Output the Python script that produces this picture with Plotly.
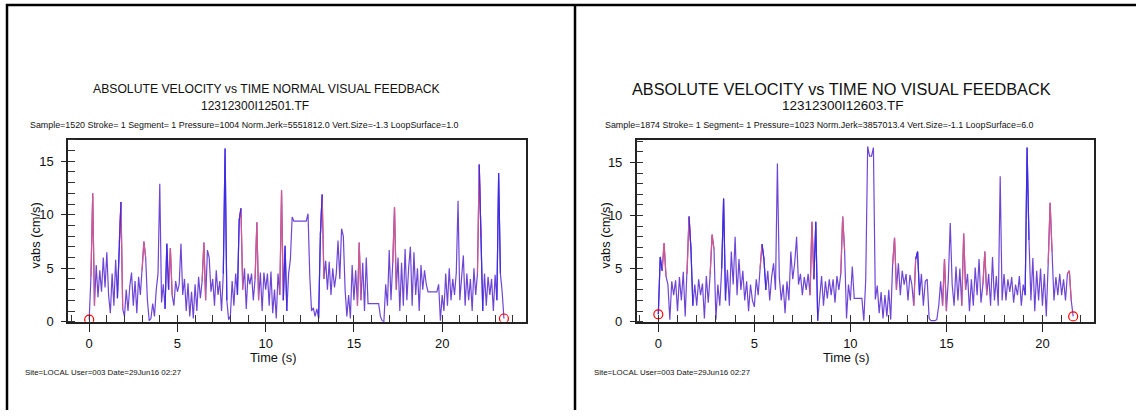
import plotly.graph_objects as go

DT = 0.1

# Left panel: NORMAL VISUAL FEEDBACK
v_normal = [
    0.2, 4.2, 12.0, 1.5, 5.3, 2.3, 4.8, 2.8, 6.0, 3.2,
    6.5, 2.5, 0.8, 4.5, 1.5, 5.8, 2.2, 7.3, 11.2, 1.2,
    0.5, 3.0, 1.0, 3.3, 4.6, 1.5, 3.8, 0.8, 4.2, 2.5,
    4.8, 7.5, 6.0, 2.0, 0.1, 0.3, 1.7, 0.5, 3.0, 4.5,
    12.9, 1.8, 3.5, 1.2, 7.3, 3.0, 6.9, 2.5, 1.5, 3.8,
    2.8, 3.5, 7.3, 2.5, 4.0, 1.0, 3.6, 0.5, 2.8, 0.3,
    3.5, 1.0, 4.2, 2.2, 3.8, 7.4, 2.0, 6.7, 6.0, 2.8,
    4.0, 1.5, 4.8, 2.5, 3.8, 1.0, 4.5, 16.2, 2.0, 0.2,
    0.5, 3.8, 1.5, 4.5, 2.5, 9.5, 10.6, 3.0, 5.0, 1.2,
    4.5, 3.5, 4.5, 2.0, 4.0, 9.3, 2.0, 4.6, 1.0, 4.6,
    3.0, 4.5, 1.5, 4.7, 0.8, 3.0, 0.3, 4.5, 2.5, 12.3,
    2.0, 7.1, 1.0, 4.5, 5.8, 9.8, 9.4, 9.4, 9.4, 9.4,
    9.4, 9.4, 9.4, 9.4, 10.1, 4.2, 1.0, 1.3, 0.5, 1.2,
    0.3, 8.1, 11.9, 4.0, 5.7, 3.0, 5.6, 2.5, 5.0, 3.2,
    4.5, 7.6, 4.0, 8.7, 8.0, 3.0, 0.5, 2.5, 0.3, 5.3,
    2.0, 4.8, 1.5, 7.4, 2.0, 5.5, 1.0, 6.0, 1.7, 1.7,
    1.7, 1.7, 1.7, 1.7, 1.7, 0.5, 0.1, 0.0, 3.5, 1.5,
    6.7, 2.0, 5.5, 10.7, 3.0, 6.0, 1.0, 5.5, 1.5, 6.8,
    2.0, 5.0, 7.0, 1.5, 6.5, 2.5, 5.0, 1.0, 5.3, 3.0,
    4.8, 3.5, 2.8, 2.8, 2.8, 2.8, 2.8, 2.8, 3.5, 0.1,
    2.5, 1.0, 4.5, 1.5, 5.0, 2.0, 4.0, 2.5, 4.6, 11.3,
    2.0, 4.0, 6.2, 1.5, 4.5, 2.0, 4.0, 1.0, 5.0, 2.5,
    4.5, 14.7, 7.9, 1.0, 4.5, 1.5, 4.2, 2.5, 4.0, 1.0,
    4.4, 2.0, 13.9, 4.5, 2.8, 0.3,
]
pink_normal = [0.2, 1.8, 3.1, 4.6, 6.5, 8.6, 9.5, 10.9, 13.2, 15.3, 17.3, 22.1]
blue_normal = [1.7, 4.4, 7.7, 8.5, 11.1, 13.1, 22.2, 23.2]

# Right panel: NO VISUAL FEEDBACK
v_novis = [
    0.7, 6.1, 4.8, 7.4, 4.3, 3.5, 0.2, 3.8, 2.5, 3.9,
    1.0, 4.2, 2.0, 4.7, 0.5, 4.5, 9.9, 6.8, 1.5, 3.5,
    1.5, 4.0, 2.5, 3.6, 0.3, 4.3, 1.8, 4.5, 8.2, 6.8,
    0.2, 3.5, 1.5, 5.0, 11.6, 2.0, 4.9, 1.5, 6.6, 3.5,
    8.0, 2.5, 5.9, 3.0, 4.8, 2.0, 3.8, 1.0, 3.5, 2.0,
    1.4, 4.0, 2.5, 5.0, 7.3, 5.9, 3.0, 4.8, 2.0, 4.2,
    5.5, 3.0, 14.9, 4.2, 2.0, 3.5, 0.8, 3.8, 2.0, 6.6,
    4.0, 5.5, 8.0, 3.5, 4.5, 2.5, 4.2, 3.0, 4.5, 2.5,
    9.4, 4.0, 9.4, 0.1, 2.5, 4.3, 1.5, 3.8, 2.2, 4.0,
    2.5, 4.0, 1.8, 4.3, 3.0, 4.5, 9.9, 6.7, 0.3, 3.5,
    2.0, 5.2, 2.2, 2.2, 2.2, 2.2, 2.2, 0.1, 4.0, 16.5,
    15.6, 15.6, 16.4, 2.1, 3.4, 0.8, 2.8, 0.3, 2.5, 0.5,
    3.0, 0.2, 5.4, 7.9, 3.0, 5.5, 2.5, 4.8, 3.5, 4.5,
    2.0, 4.4, 3.5, 1.5, 5.9, 6.6, 2.5, 4.5, 1.5, 3.8,
    4.0, 0.3, 0.1, 0.1, 0.1, 0.2, 1.5, 3.8, 1.5, 5.9,
    1.0, 4.0, 9.3, 3.5, 1.5, 5.2, 2.0, 5.0, 1.5, 8.3,
    3.0, 4.5, 1.0, 4.0, 1.5, 5.1, 2.5, 5.9, 1.8, 3.5,
    6.6, 2.5, 4.5, 1.5, 6.1, 2.0, 4.3, 1.5, 13.7, 2.0,
    4.5, 2.0, 4.0, 2.8, 4.2, 1.8, 3.5, 2.5, 4.3, 1.5,
    3.5, 2.5, 16.4, 7.7, 2.0, 6.0, 1.0, 4.8, 2.0, 5.0,
    1.5, 4.5, 0.5, 5.5, 11.2, 6.6, 2.0, 4.2, 2.5, 4.5,
    2.5, 4.0, 2.0, 4.5, 4.8, 2.0, 0.5,
]
pink_novis = [0.3, 1.6, 2.8, 5.4, 8.0, 9.6, 12.3, 13.4, 14.9, 15.9, 17.0, 20.4, 21.4]
blue_novis = [0.1, 1.7, 3.4, 5.5, 8.2, 13.5, 19.2]

titles = ["ABSOLUTE VELOCITY vs TIME NORMAL VISUAL FEEDBACK",
          "ABSOLUTE VELOCITY vs TIME NO VISUAL FEEDBACK"]
files = ["12312300I12501.TF", "12312300I12603.TF"]
infos = ["Sample=1520 Stroke= 1 Segment= 1 Pressure=1004 Norm.Jerk=5551812.0 Vert.Size=-1.3 LoopSurface=1.0",
         "Sample=1874 Stroke= 1 Segment= 1 Pressure=1023 Norm.Jerk=3857013.4 Vert.Size=-1.1 LoopSurface=6.0"]
footer = "Site=LOCAL User=003 Date=29Jun16 02:27"
x_ticks = [0, 5, 10, 15, 20]
y_ticks = [0, 5, 10, 15]

# ---------------- figure ----------------
W, H = 1136, 418
FONT = "Liberation Sans, Arial, sans-serif"
PURPLE, BLUE, PINK = "#6e46d6", "#3c2ce6", "#d2588c"

fig = go.Figure()

panels = [
    dict(v=v_normal, pink=pink_normal, blue=blue_normal, xa="x", ya="y",
         xdom=[68 / W, 526 / W], xr=[-1.2, 24.75], yr=[0, 17.03]),
    dict(v=v_novis, pink=pink_novis, blue=blue_novis, xa="x2", ya="y2",
         xdom=[636.7 / W, 1094.3 / W], xr=[-1.125, 22.7], yr=[0, 17.15]),
]
ydom = [1 - 328 / H, 1 - 142.3 / H]

for p in panels:
    v = p["v"]
    t = [round(i * DT, 1) for i in range(len(v))]
    fig.add_trace(go.Scatter(x=t, y=v, mode="lines", xaxis=p["xa"], yaxis=p["ya"],
                             line=dict(color=PURPLE, width=1.2), showlegend=False,
                             hoverinfo="skip"))
    for peaks, col in ((p["pink"], PINK), (p["blue"], BLUE)):
        xs, ys = [], []
        for pk in peaks:
            k = int(round(pk / DT))
            lo, hi = max(k - 1, 0), min(k + 1, len(v) - 1)
            xs += t[lo:hi + 1] + [None]
            ys += v[lo:hi + 1] + [None]
        fig.add_trace(go.Scatter(x=xs, y=ys, mode="lines", xaxis=p["xa"], yaxis=p["ya"],
                                 line=dict(color=col, width=1.2), showlegend=False,
                                 hoverinfo="skip", connectgaps=False))
    # start / end markers
    fig.add_trace(go.Scatter(x=[t[0], t[-1]], y=[v[0], v[-1]], mode="markers",
                             xaxis=p["xa"], yaxis=p["ya"], showlegend=False,
                             marker=dict(symbol="circle-open", size=9, color="#ff0000",
                                         line=dict(width=1.2, color="#ff0000"))))

axis_common = dict(showgrid=False, zeroline=False, showline=True, linecolor="#222",
                   linewidth=1.5, mirror=True, tickfont=dict(family=FONT, size=13, color="#111"))

for i, p in enumerate(panels):
    sfx = "" if i == 0 else "2"
    fig.layout["xaxis" + sfx] = dict(
        domain=p["xdom"], range=p["xr"], anchor="y" + sfx,
        tickmode="array", tickvals=x_ticks, ticks="outside", ticklen=9, tickwidth=1.2,
        tickcolor="#222",
        minor=dict(dtick=1, tick0=0, ticks="inside", ticklen=7, tickwidth=1.2,
                   tickcolor="#333", showgrid=False),
        **axis_common)
    fig.layout["yaxis" + sfx] = dict(
        domain=ydom, range=p["yr"], anchor="x" + sfx,
        tickmode="array", tickvals=y_ticks, ticks="outside", ticklen=5, tickwidth=1.2,
        tickcolor="#222", ticklabelstandoff=5,
        minor=dict(dtick=1, tick0=0, ticks="inside", ticklen=7, tickwidth=1.2,
                   tickcolor="#333", showgrid=False),
        **axis_common)

def px(x):
    return x / W

def py(y):
    return 1 - y / H

ann = []
text_layout = [
    dict(tc=266, ts=12.2, fc=255, fs=12, ic=244.5, xl=273, yl=35, fx=23),
    dict(tc=841.5, ts=16.3, fc=843, fs=13.5, ic=819, xl=846, yl=605, fx=592),
]
for i, L in enumerate(text_layout):
    ann.append(dict(text=titles[i], x=px(L["tc"]), y=py(91), xanchor="center", yanchor="middle",
                    font=dict(family=FONT, size=L["ts"], color="#111")))
    ann.append(dict(text=files[i], x=px(L["fc"]), y=py(108), xanchor="center", yanchor="middle",
                    font=dict(family=FONT, size=L["fs"], color="#111")))
    ann.append(dict(text=infos[i], x=px(L["ic"]), y=py(127), xanchor="center", yanchor="middle",
                    font=dict(family=FONT, size=8.9, color="#111")))
    ann.append(dict(text="Time (s)", x=px(L["xl"]), y=py(364.5), xanchor="center", yanchor="middle",
                    font=dict(family=FONT, size=12.8, color="#111")))
    ann.append(dict(text="vabs (cm/s)", x=px(L["yl"]), y=py(240), xanchor="center", yanchor="middle",
                    textangle=-90, font=dict(family=FONT, size=12.8, color="#111")))
    ann.append(dict(text=footer, x=px(L["fx"]), y=py(380), xanchor="left", yanchor="middle",
                    font=dict(family=FONT, size=7.9, color="#111")))
for a in ann:
    a.update(xref="paper", yref="paper", showarrow=False)

shapes = [
    dict(type="line", xref="paper", yref="paper", x0=px(6), x1=1, y0=py(5), y1=py(5),
         line=dict(color="#000", width=2.5)),
    dict(type="line", xref="paper", yref="paper", x0=px(7), x1=px(7), y0=py(4), y1=0,
         line=dict(color="#000", width=2.5)),
    dict(type="line", xref="paper", yref="paper", x0=px(575), x1=px(575), y0=py(4), y1=0,
         line=dict(color="#000", width=2.5)),
]

fig.update_layout(width=W, height=H, margin=dict(l=0, r=0, t=0, b=0),
                  paper_bgcolor="white", plot_bgcolor="white",
                  annotations=ann, shapes=shapes, showlegend=False,
                  font=dict(family=FONT, color="#111"))

page_fix = "document.body.style.margin='0';document.body.style.overflow='hidden';"
fig.write_html("out.html", config={"displayModeBar": False}, post_script=page_fix)
